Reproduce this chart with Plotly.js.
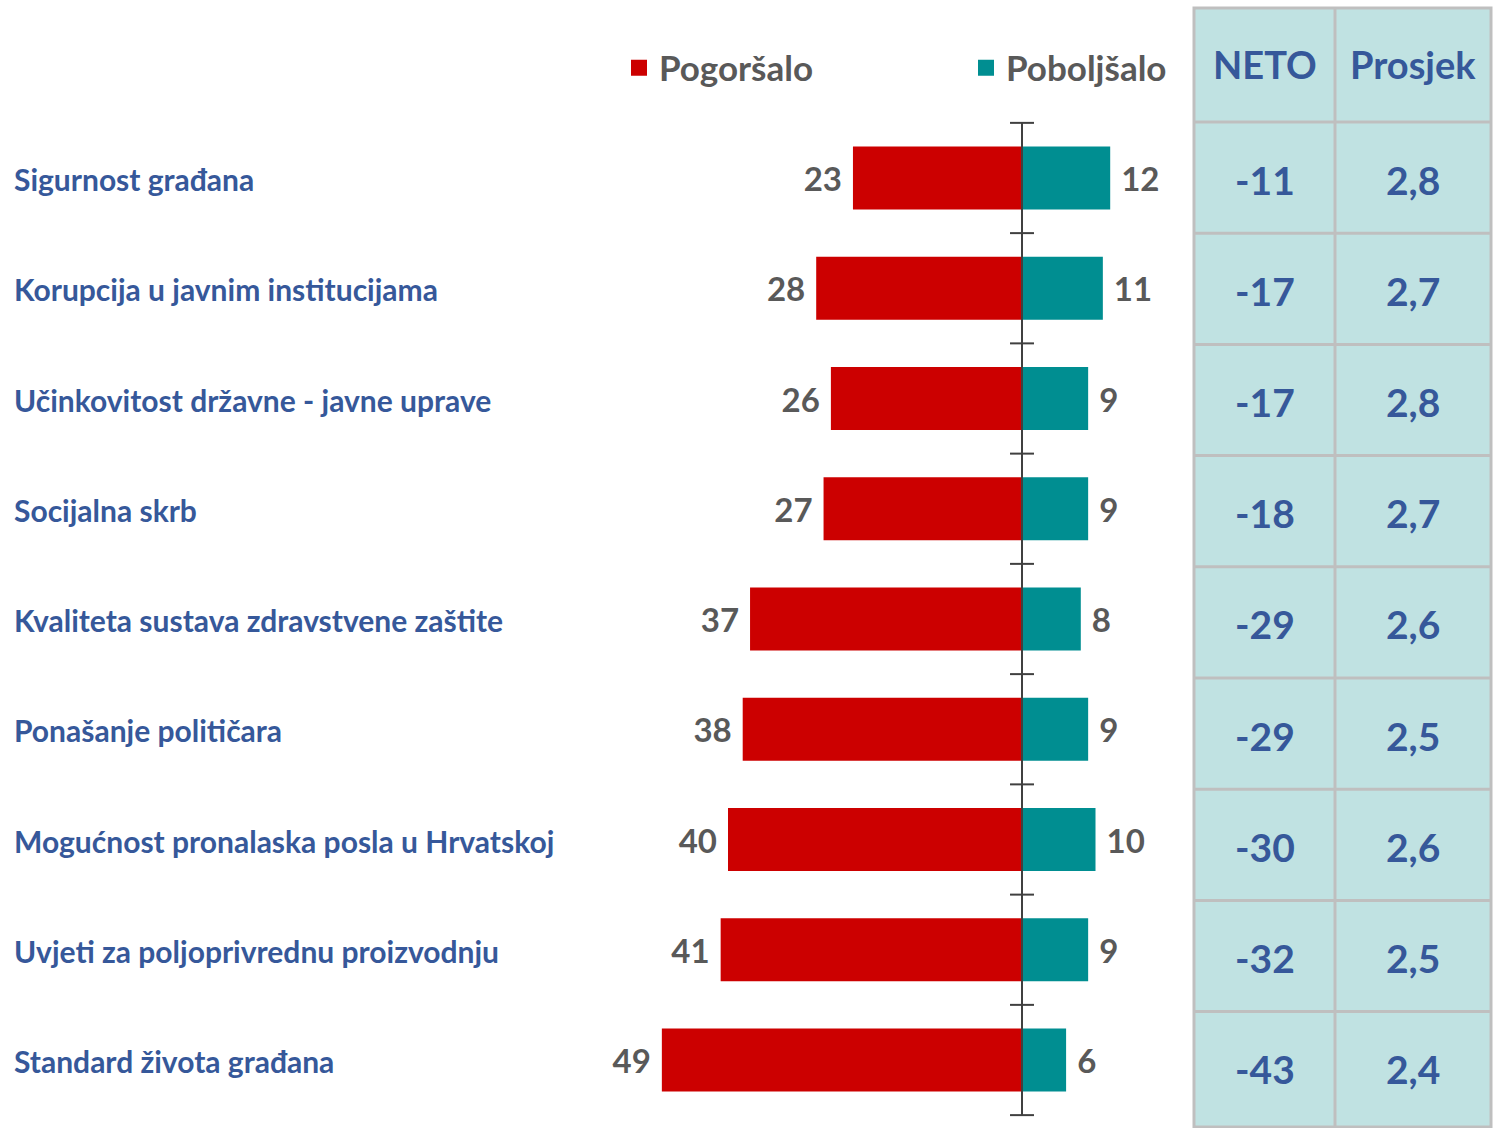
<!DOCTYPE html>
<html>
<head>
<meta charset="utf-8">
<script src="https://cdn.plot.ly/plotly-3.0.1.min.js"></script>
<style>html,body{margin:0;padding:0;background:#fff;}#chart{width:1494px;height:1128px;}</style>
</head>
<body>
<div id="chart"></div>
<script>
const categories = [
  "Sigurnost građana",
  "Korupcija u javnim institucijama",
  "Učinkovitost državne - javne uprave",
  "Socijalna skrb",
  "Kvaliteta sustava zdravstvene zaštite",
  "Ponašanje političara",
  "Mogućnost pronalaska posla u Hrvatskoj",
  "Uvjeti za poljoprivrednu proizvodnju",
  "Standard života građana"
];
const pogorsalo = [23, 28, 26, 27, 37, 38, 40, 41, 49];
const poboljsalo = [12, 11, 9, 9, 8, 9, 10, 9, 6];
const neto = [-11, -17, -17, -18, -29, -29, -30, -32, -43];
const prosjek = [2.8, 2.7, 2.8, 2.7, 2.6, 2.5, 2.6, 2.5, 2.4];
const seriesNames = ["Pogoršalo", "Poboljšalo"];
const tableHeaders = ["NETO", "Prosjek"];

const W = 1494, H = 1128;
const FONT = "Lato, 'Open Sans', sans-serif";
const BLUE = "#36589a";
const GREY = "#595959";
const RED = "#cc0000";
const TEAL = "#008e91";
const idx = categories.map((c, i) => i);
const n = categories.length;

const barText = {family: FONT, size: 33, color: GREY, weight: 700};
const traces = [
  {
    type: "bar", orientation: "h", name: seriesNames[0], legendgroup: "neg", showlegend: false,
    y: idx, x: pogorsalo.map(v => -v),
    text: pogorsalo.map(v => String(v) + "\u00a0"),
    textposition: "outside", cliponaxis: false, constraintext: "none",
    textfont: barText,
    marker: {color: RED, line: {width: 0}},
    width: 0.57, hoverinfo: "skip"
  },
  {
    type: "bar", orientation: "h", name: seriesNames[1], legendgroup: "pos", showlegend: false,
    y: idx, x: poboljsalo,
    text: poboljsalo.map(v => "\u00a0" + String(v)),
    textposition: "outside", cliponaxis: false, constraintext: "none",
    textfont: barText,
    marker: {color: TEAL, line: {width: 0}},
    width: 0.57, hoverinfo: "skip"
  },
  {type: "scatter", mode: "markers", name: seriesNames[0], legendgroup: "neg", x: [null], y: [null],
    marker: {symbol: "square", size: 20, color: RED}, hoverinfo: "skip"},
  {type: "scatter", mode: "markers", name: seriesNames[1], legendgroup: "pos", x: [null], y: [null],
    marker: {symbol: "square", size: 20, color: TEAL}, hoverinfo: "skip"}
];

const pxPerUnit = 7.35, zeroPx = 1022;
const xRange = [-zeroPx / pxPerUnit, (W - zeroPx) / pxPerUnit];
const yPx0 = 178, yStep = 110.25;
const yRange = [(H - yPx0) / yStep, -yPx0 / yStep];

const px = v => v / W;
const yOfPx = p => (p - yPx0) / yStep;

// table grid (its own row height, in pixels)
const tHeadTop = 8, tHeadBot = 122, tRowH = 111.2;
const rowTopPx = k => tHeadBot + tRowH * k;

const shapes = [];
const tL = px(1194), tM = px(1335), tR = px(1491);
const tTop = yOfPx(tHeadTop), tBot = yOfPx(1127);
shapes.push({type: "rect", xref: "paper", yref: "y", x0: tL, x1: tR, y0: tTop, y1: tBot,
  fillcolor: "#c0e2e2", line: {color: "#bfbfbf", width: 3}, layer: "below"});
shapes.push({type: "line", xref: "paper", yref: "y", x0: tM, x1: tM, y0: tTop, y1: tBot,
  line: {color: "#bfbfbf", width: 3}});
for (let k = 0; k < n; k++) {
  const yy = yOfPx(rowTopPx(k));
  shapes.push({type: "line", xref: "paper", yref: "y", x0: tL, x1: tR, y0: yy, y1: yy,
    line: {color: "#bfbfbf", width: 3}});
}
shapes.push({type: "line", xref: "x", yref: "y", x0: 0, x1: 0, y0: -0.5, y1: n - 0.5,
  line: {color: "#404040", width: 2}, layer: "above"});
for (let i = 0; i <= n; i++) {
  shapes.push({type: "line", xref: "x", yref: "y", x0: -1.63, x1: 1.63, y0: i - 0.5, y1: i - 0.5,
    line: {color: "#404040", width: 2}, layer: "above"});
}

const annotations = [];
const catFont = {family: FONT, size: 30, color: BLUE, weight: 700};
const cellFont = {family: FONT, size: 39, color: BLUE, weight: 700};
categories.forEach((c, i) => {
  annotations.push({xref: "paper", yref: "y", x: px(12), y: i + 0.01, xanchor: "left", yanchor: "middle",
    text: c, showarrow: false, font: catFont});
  const cy = yOfPx(rowTopPx(i) + tRowH / 2 + 2);
  annotations.push({xref: "paper", yref: "y", x: (tL + tM) / 2, y: cy, xanchor: "center", yanchor: "middle",
    text: String(neto[i]), showarrow: false, font: cellFont});
  annotations.push({xref: "paper", yref: "y", x: (tM + tR) / 2, y: cy, xanchor: "center", yanchor: "middle",
    text: prosjek[i].toFixed(1).replace(".", ","), showarrow: false, font: cellFont});
});
const hdrY = yOfPx(64);
const hdrFont = {family: FONT, size: 38, color: BLUE, weight: 700};
annotations.push({xref: "paper", yref: "y", x: (tL + tM) / 2, y: hdrY, xanchor: "center", yanchor: "middle",
  text: tableHeaders[0], showarrow: false, font: hdrFont});
annotations.push({xref: "paper", yref: "y", x: (tM + tR) / 2, y: hdrY, xanchor: "center", yanchor: "middle",
  text: tableHeaders[1], showarrow: false, font: hdrFont});

const layout = {
  width: W, height: H,
  margin: {l: 0, r: 0, t: 0, b: 0, pad: 0},
  paper_bgcolor: "#ffffff", plot_bgcolor: "#ffffff",
  barmode: "relative",
  showlegend: true,
  legend: {orientation: "h", x: 619 / W, xanchor: "left", y: 1 - 68 / H, yanchor: "middle",
    font: {family: FONT, size: 35, color: GREY, weight: 700}, entrywidth: 302, entrywidthmode: "pixels",
    itemsizing: "trace", bgcolor: "rgba(0,0,0,0)", traceorder: "normal", itemclick: false, itemdoubleclick: false},
  xaxis: {range: xRange, domain: [0, 1], visible: false, fixedrange: true},
  yaxis: {range: yRange, domain: [0, 1], visible: false, fixedrange: true},
  shapes: shapes,
  annotations: annotations
};

Plotly.newPlot("chart", traces, layout, {displayModeBar: false, staticPlot: true});
</script>
</body>
</html>
